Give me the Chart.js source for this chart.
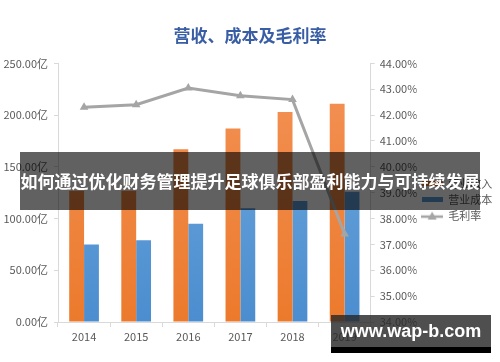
<!DOCTYPE html>
<html>
<head>
<meta charset="utf-8">
<script src="https://cdn.jsdelivr.net/npm/chart.js@4/dist/chart.umd.min.js"></script>
<style>
  html, body { margin: 0; padding: 0; background: #fff; }
  #wrap { position: relative; width: 500px; height: 362px; }
  #band {
    position: absolute; left: 20px; top: 152px; width: 460px; height: 58px;
    background: rgba(0, 0, 0, 0.62); color: #fff;
    font: bold 17px "Noto Sans CJK SC", sans-serif;
    line-height: 58px; text-align: center; white-space: nowrap;
  }
  #mark {
    position: absolute; left: 331px; top: 315px; width: 160px; height: 32px;
    background: rgba(40, 40, 40, 0.82); color: #fff;
    font: bold 18px "Liberation Sans", sans-serif;
    line-height: 32px; text-align: center;
    border-bottom: 6px solid #000;
  }
</style>
</head>
<body>
<div id="wrap">
  <canvas id="myChart" width="500" height="362"></canvas>
  <div id="band">如何通过优化财务管理提升足球俱乐部盈利能力与可持续发展</div>
  <div id="mark">www.wap-b.com</div>
</div>
<script>
var years = ["2014", "2015", "2016", "2017", "2018", "2019"];
var revenue = [127, 127, 167, 187, 203, 211];   // 营业收入, 亿
var cost = [75, 79, 95, 110, 117, 126];         // 营业成本, 亿
var margin = [42.3, 42.4, 43.05, 42.75, 42.6, 37.4]; // 毛利率, %
var leftTicks = [0, 250, 50];   // min, max, step
var rightTicks = [34, 44, 1];

Chart.defaults.font.family = '"Noto Sans CJK SC", sans-serif';
Chart.defaults.font.size = 11;
Chart.defaults.color = '#595959';

function swatch(color, w, h) {
    var c = document.createElement('canvas');
    c.width = w; c.height = h;
    var g = c.getContext('2d');
    g.fillStyle = color;
    g.fillRect(0, 0, w, h);
    return c;
}
function lineSwatch() {
    var c = document.createElement('canvas');
    c.width = 22; c.height = 10;
    var g = c.getContext('2d');
    g.strokeStyle = '#a5a5a5'; g.lineWidth = 2.5;
    g.beginPath(); g.moveTo(0, 6); g.lineTo(22, 6); g.stroke();
    g.fillStyle = '#a5a5a5';
    g.beginPath(); g.moveTo(11, 1); g.lineTo(15.5, 9); g.lineTo(6.5, 9); g.closePath(); g.fill();
    return c;
}
var legendIcons = [swatch('#ed7d31', 21, 5), swatch('#5b9bd5', 21, 5), lineSwatch()];

function barFill(top, bottom) {
    return function (ctx) {
        var area = ctx.chart.chartArea;
        if (!area) return bottom;
        var grad = ctx.chart.ctx.createLinearGradient(0, area.top, 0, area.bottom);
        grad.addColorStop(0, top);
        grad.addColorStop(1, bottom);
        return grad;
    };
}

var myChart = new Chart(document.getElementById('myChart'), {
    type: 'bar',
    data: {
        labels: years,
        datasets: [{
            label: '营业收入',
            data: revenue,
            backgroundColor: barFill('#f39257', '#ec7a2c'),
            yAxisID: 'y',
            categoryPercentage: 0.57,
            barPercentage: 1.0,
            order: 1
        }, {
            label: '营业成本',
            data: cost,
            backgroundColor: barFill('#73abdf', '#4b8dcf'),
            yAxisID: 'y',
            categoryPercentage: 0.57,
            barPercentage: 1.0,
            order: 1
        }, {
            type: 'line',
            label: '毛利率',
            data: margin,
            yAxisID: 'y1',
            borderColor: '#a5a5a5',
            backgroundColor: '#a5a5a5',
            borderWidth: 3,
            pointStyle: 'triangle',
            pointRadius: 5,
            pointBorderWidth: 0,
            tension: 0,
            order: 0
        }]
    },
    options: {
        responsive: false,
        animation: false,
        layout: { padding: 0 },
        plugins: {
            title: {
                display: true,
                text: '营收、成本及毛利率',
                color: '#3a5ea5',
                font: { size: 17, weight: 'bold' },
                padding: { top: 25, bottom: 18 }
            },
            legend: {
                position: 'right',
                // blank title only pushes the items down a little
                title: { display: true, text: ' ', font: { size: 11 }, padding: { top: 0, bottom: 24 } },
                labels: {
                    usePointStyle: true,
                    pointStyleWidth: 21,
                    boxHeight: 10,
                    padding: 5,
                    color: '#595959',
                    font: { size: 11 },
                    sort: function (a, b) { return a.datasetIndex - b.datasetIndex; },
                    generateLabels: function (chart) {
                        var items = Chart.defaults.plugins.legend.labels.generateLabels(chart);
                        items.forEach(function (it) { it.pointStyle = legendIcons[it.datasetIndex]; });
                        return items;
                    }
                }
            },
            tooltip: { enabled: false }
        },
        scales: {
            x: {
                grid: { display: true, drawOnChartArea: false, tickLength: 5, color: '#d9d9d9', offset: true },
                border: { color: '#d9d9d9' },
                ticks: { padding: 3, color: '#595959' },
                afterFit: function (s) { s.height = 40; }
            },
            y: {
                position: 'left',
                min: leftTicks[0], max: leftTicks[1],
                grid: { drawOnChartArea: false, tickLength: 4, color: '#d9d9d9' },
                border: { color: '#d9d9d9' },
                ticks: {
                    stepSize: leftTicks[2], padding: 6,
                    callback: function (v) { return v.toFixed(2) + '亿'; }
                },
                afterFit: function (s) { s.width = 58; }
            },
            y1: {
                position: 'right',
                min: rightTicks[0], max: rightTicks[1],
                grid: { drawOnChartArea: false, tickLength: 4, color: '#d9d9d9' },
                border: { color: '#d9d9d9' },
                ticks: {
                    stepSize: rightTicks[2], padding: 5,
                    callback: function (v) { return v.toFixed(2) + '%'; }
                },
                afterFit: function (s) { s.width = 46; }
            }
        }
    }
});
</script>
</body>
</html>
